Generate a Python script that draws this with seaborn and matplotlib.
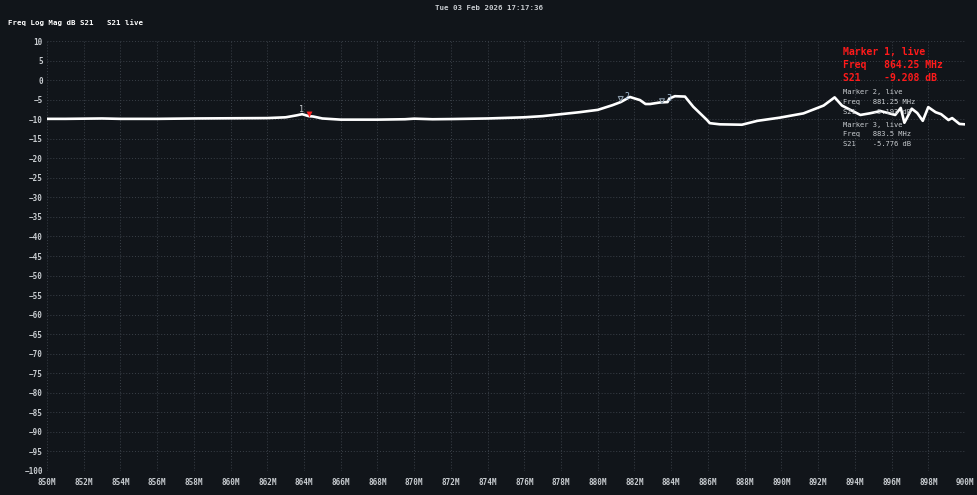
import numpy as np
import pandas as pd
import matplotlib
matplotlib.use("Agg")
import matplotlib.pyplot as plt
import seaborn as sns

# trace (MHz, dB)
freq_mhz = [850.0, 851.0, 852.0, 853.0, 854.0, 855.0, 856.0, 858.0, 860.0, 862.0,
            863.0, 863.6, 863.9, 864.25, 864.5, 865.0, 866.0, 868.0, 869.5, 870.0,
            871.0, 872.0, 874.0, 876.0, 877.0, 878.0, 879.0, 880.0, 880.8, 881.25,
            881.75, 882.3, 882.6, 882.85, 883.4, 883.8, 883.9, 884.2, 884.75, 885.2,
            885.95, 886.1, 886.65, 887.85, 888.7, 889.9, 891.2, 892.3, 892.9, 893.3,
            894.3, 894.8, 895.4, 896.2, 896.5, 896.7, 897.1, 897.4, 897.7, 898.0,
            898.4, 898.7, 899.1, 899.3, 899.7, 900.0]
s21_db = [-9.9, -9.9, -9.85, -9.8, -9.9, -9.9, -9.9, -9.8, -9.75, -9.7,
          -9.5, -9.0, -8.7, -9.2, -9.3, -9.8, -10.1, -10.1, -10.0, -9.85,
          -10.0, -9.95, -9.8, -9.5, -9.2, -8.7, -8.2, -7.6, -6.4, -5.6,
          -4.3, -5.1, -6.1, -6.1, -5.7, -5.6, -4.7, -4.1, -4.2, -6.8,
          -10.2, -11.0, -11.3, -11.4, -10.4, -9.6, -8.5, -6.5, -4.4, -6.5,
          -8.9, -8.5, -7.9, -8.9, -7.1, -10.9, -7.3, -8.4, -10.4, -6.9,
          -8.2, -8.7, -10.2, -9.7, -11.2, -11.3]

marker_ids = ["1", "2", "3"]
marker_freq = [864.25, 881.25, 883.5]
marker_db = [-9.208, -5.193, -5.776]

y_ticks = list(range(10, -101, -5))
x_ticks = list(range(850, 901, 2))
x_labels = [f"{t}M" for t in x_ticks]

timestamp = "Tue 03 Feb 2026 17:17:36"
header = "Freq Log Mag dB S21   S21 live"

bg = "#11151a"
txt = "#c8ccd0"
mono = ["DejaVu Sans Mono"]

sns.set_theme(style="dark")
plt.rcParams["font.family"] = mono

df = pd.DataFrame({"freq": freq_mhz, "s21": s21_db})

fig = plt.figure(figsize=(9.78, 4.95), dpi=100, facecolor=bg)
ax = fig.add_axes([0.048, 0.0485, 0.9387, 0.8685])
ax.set_facecolor(bg)

sns.lineplot(data=df, x="freq", y="s21", ax=ax, color="white", lw=1.9,
             zorder=5, legend=False)

# markers
ax.scatter([marker_freq[0]], [marker_db[0] + 0.6], marker="v", s=18,
           color="#ff2020", zorder=6, linewidths=0)
ax.annotate(marker_ids[0], (marker_freq[0], marker_db[0]), xytext=(-7, 3),
            textcoords="offset points", color=txt, fontsize=6, zorder=6)
for mid, f, d in zip(marker_ids[1:], marker_freq[1:], marker_db[1:]):
    ax.scatter([f], [d + 0.4], marker="v", s=12, facecolor="none",
               edgecolor="#8a9aa8", linewidths=0.8, zorder=6)
    ax.annotate(mid, (f, d), xytext=(3, 1), textcoords="offset points",
                color="#a8c0d8", fontsize=6, zorder=6)

ax.set_xlim(850, 900)
ax.set_ylim(-100, 10)
ax.set_xticks(x_ticks)
ax.set_xticklabels(x_labels)
ax.set_yticks(y_ticks)
ax.set_xlabel("")
ax.set_ylabel("")
ax.tick_params(colors=txt, labelsize=5.5, length=0)
ax.tick_params(axis="x", pad=5)
ax.tick_params(axis="y", pad=3)
for lab in ax.get_xticklabels() + ax.get_yticklabels():
    lab.set_fontweight("bold")
ax.grid(True, color="#3a4048", linestyle=(0, (1, 2)), linewidth=0.7)
for s in ax.spines.values():
    s.set_visible(False)

fig.text(0.5, 0.983, timestamp, ha="center", va="center", color=txt,
         fontsize=5.3, fontweight="bold")
fig.text(0.008, 0.955, header, ha="left", va="center", color="white",
         fontsize=5.3, fontweight="bold")

# marker readouts
red = "#ff1a1a"
rx = 0.862
fig.text(rx, 0.895, "Marker 1, live", color=red, fontsize=7, va="center",
         fontweight="bold")
fig.text(rx, 0.869, f"Freq   {marker_freq[0]} MHz", color=red, fontsize=7,
         va="center", fontweight="bold")
fig.text(rx, 0.842, f"S21    {marker_db[0]:.3f} dB", color=red, fontsize=7,
         va="center", fontweight="bold")
rows = [(0.814, "Marker 2, live"), (0.794, f"Freq   {marker_freq[1]} MHz"),
        (0.774, f"S21    {marker_db[1]:.3f} dB"),
        (0.747, "Marker 3, live"), (0.729, f"Freq   {marker_freq[2]} MHz"),
        (0.709, f"S21    {marker_db[2]:.3f} dB")]
for yy, s in rows:
    fig.text(rx, yy, s, color=txt, fontsize=5.1, va="center", zorder=1)

fig.savefig("out.png", dpi=100, facecolor=bg)
